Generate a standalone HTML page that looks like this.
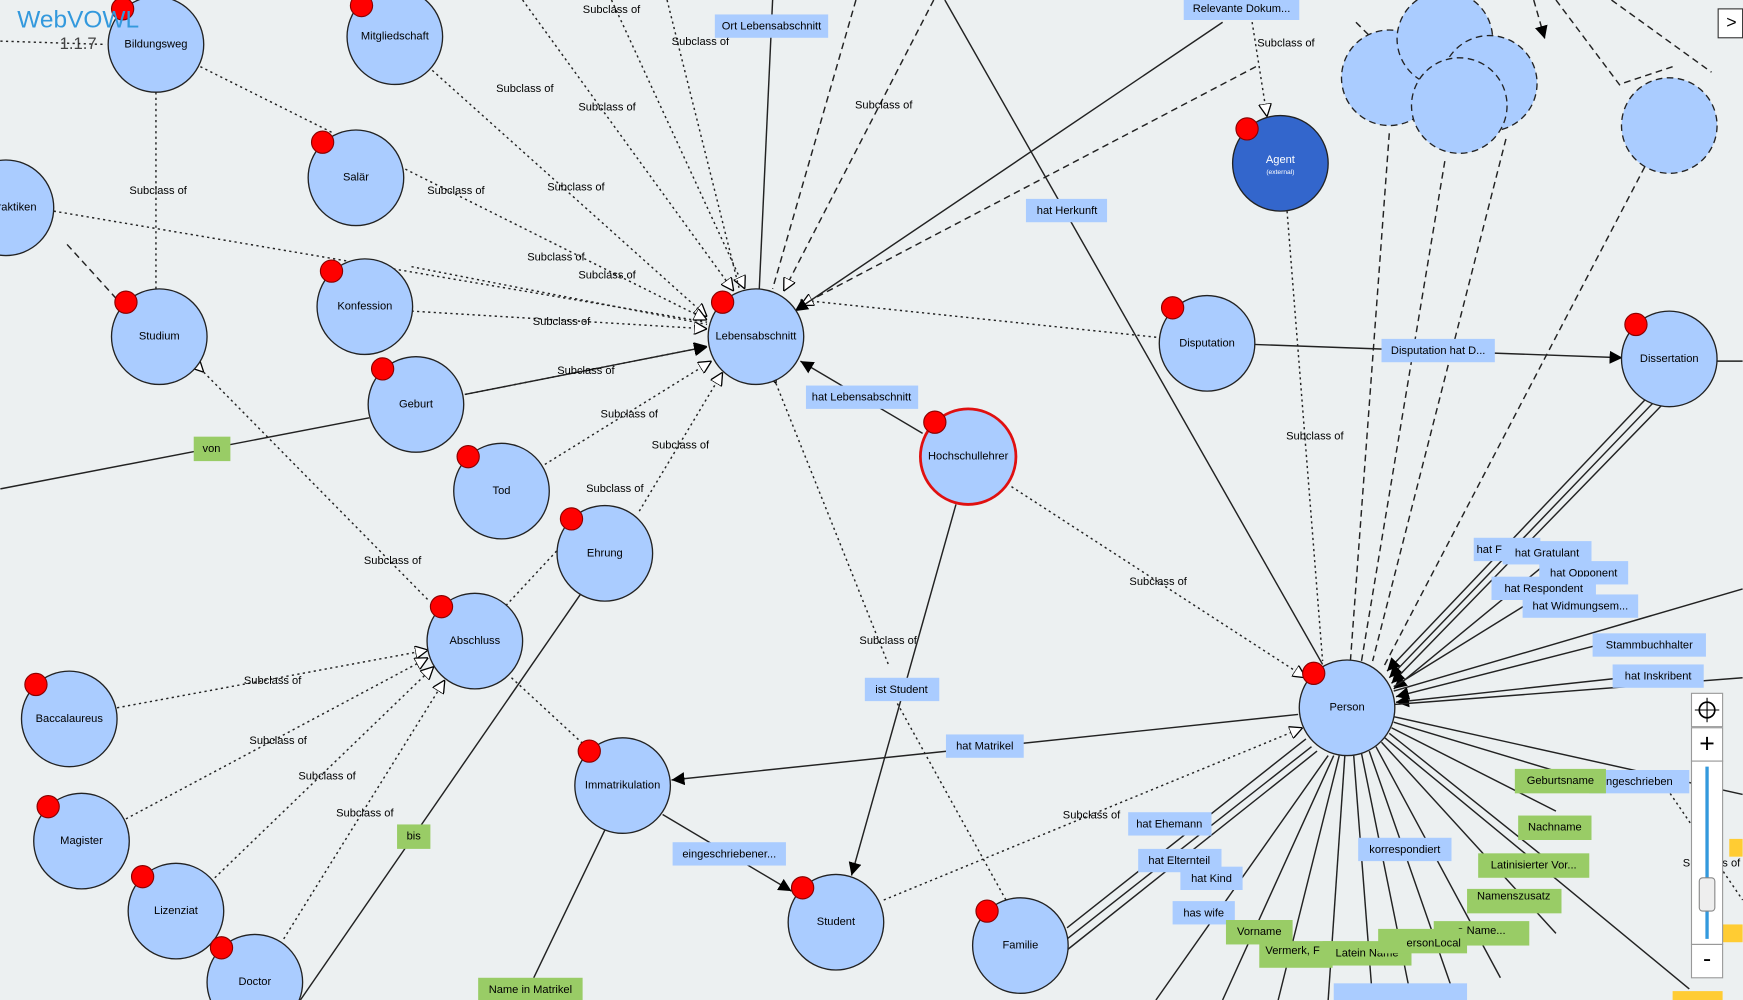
<!DOCTYPE html>
<html><head><meta charset="utf-8">
<style>
html,body{margin:0;padding:0;background:#ecf0f1;overflow:hidden}
svg{display:block}
text{font-family:"Liberation Sans",sans-serif;font-size:10px;text-anchor:middle;dominant-baseline:middle;fill:#000}
.n{fill:#aaccff;stroke:#222;stroke-width:1.2}
.d{stroke:#222;stroke-width:1.3;stroke-dasharray:2,3;fill:none}
.s{stroke:#222;stroke-width:1.3;fill:none}
.ds{stroke:#222;stroke-width:1.3;stroke-dasharray:6,4;fill:none}
.pin{fill:#ff0000;stroke:#800;stroke-width:1}
.lb{fill:#aaccff}
.lg{fill:#99cc66}
</style></head><body>
<svg width="1743" height="1000" viewBox="0 0 1568 900" xmlns="http://www.w3.org/2000/svg">
<defs>
<marker id="a" viewBox="0 0 10 10" refX="10" refY="5" markerWidth="9" markerHeight="9" orient="auto"><path d="M0,0L10,5L0,10z" fill="#000"/></marker>
<marker id="h" viewBox="0 0 10 10" refX="10" refY="5" markerWidth="9" markerHeight="9" orient="auto"><path d="M0,0L10,5L0,10z" fill="#fff" stroke="#000"/></marker>
</defs>
<rect width="1568" height="900" fill="#ecf0f1"/>
<!-- dotted subclass edges to Lebensabschnitt -->
<g class="d">
<line x1="140" y1="83" x2="140" y2="260" marker-start="url(#h)"/>
<line x1="180" y1="60" x2="300" y2="120"/>
<line x1="48" y1="190" x2="636" y2="290" marker-start="url(#h)"/>
<line x1="385" y1="60" x2="636" y2="285" marker-end="url(#h)"/>
<line x1="360" y1="150" x2="636" y2="288" marker-end="url(#h)"/>
<line x1="370" y1="280" x2="636" y2="296" marker-end="url(#h)"/>
<line x1="370" y1="240" x2="636" y2="292"/>
<line x1="418" y1="355" x2="636" y2="312" marker-end="url(#h)"/>
<line x1="490" y1="418" x2="640" y2="325" marker-end="url(#h)"/>
<line x1="575" y1="460" x2="650" y2="335" marker-end="url(#h)"/>
<line x1="470" y1="0" x2="660" y2="262" marker-end="url(#h)"/>
<line x1="550" y1="0" x2="670" y2="260" marker-end="url(#h)"/>
<line x1="600" y1="0" x2="665" y2="260"/>
<line x1="720" y1="270" x2="1045" y2="304"/>
<line x1="183" y1="335" x2="385" y2="540" marker-start="url(#h)"/>
<line x1="105" y1="637" x2="385" y2="585" marker-end="url(#h)"/>
<line x1="113" y1="737" x2="385" y2="592" marker-end="url(#h)"/>
<line x1="193" y1="790" x2="390" y2="600" marker-end="url(#h)"/>
<line x1="255" y1="845" x2="400" y2="612" marker-end="url(#h)"/>
<line x1="455" y1="545" x2="520" y2="475"/>
<line x1="460" y1="610" x2="525" y2="670"/>
<line x1="698" y1="345" x2="800" y2="600" marker-start="url(#h)"/>
<line x1="800" y1="620" x2="905" y2="810"/>
<line x1="910" y1="438" x2="1175" y2="610" marker-end="url(#h)"/>
<line x1="795" y1="810" x2="1172" y2="655" marker-end="url(#h)"/>
<line x1="1158" y1="190" x2="1190" y2="595" marker-start="url(#h)"/>
<line x1="1125" y1="10" x2="1140" y2="105" marker-end="url(#h)"/>
<line x1="1500" y1="710" x2="1568" y2="810"/>
</g>
<g class="ds">
<line x1="60" y1="220" x2="110" y2="275"/>
<line x1="840" y1="0" x2="705" y2="262" marker-end="url(#h)"/>
<line x1="770" y1="0" x2="695" y2="260"/>
<line x1="1130" y1="60" x2="720" y2="275" marker-end="url(#h)"/>
<line x1="1250" y1="120" x2="1215" y2="595"/>
<line x1="1300" y1="145" x2="1225" y2="595"/>
<line x1="1355" y1="125" x2="1235" y2="595"/>
<line x1="1480" y1="150" x2="1245" y2="600"/>
<line x1="1505" y1="60" x2="1460" y2="75"/>
<line x1="1400" y1="0" x2="1460" y2="80"/>
<line x1="1450" y1="0" x2="1540" y2="65"/>
<line x1="1220" y1="20" x2="1240" y2="40"/>
<line x1="1380" y1="0" x2="1390" y2="35" marker-end="url(#a)"/>
</g>
<!-- solid edges -->
<g class="s">
<line x1="0" y1="440" x2="332" y2="376"/>
<line x1="418" y1="355" x2="636" y2="312" marker-end="url(#a)"/>
<line x1="695" y1="0" x2="683" y2="260"/>
<line x1="1100" y1="20" x2="715" y2="280" marker-end="url(#a)"/>
<line x1="830" y1="390" x2="720" y2="325" marker-end="url(#a)"/>
<line x1="860" y1="454" x2="766" y2="788" marker-end="url(#a)"/>
<line x1="1168" y1="643" x2="604" y2="702" marker-end="url(#a)"/>
<line x1="596" y1="733" x2="712" y2="802" marker-end="url(#a)"/>
<line x1="1128" y1="310" x2="1460" y2="322" marker-end="url(#a)"/>
<line x1="850" y1="0" x2="1190" y2="598"/>
<line x1="270" y1="900" x2="522" y2="535"/>
<line x1="480" y1="880" x2="545" y2="745"/>
<line x1="1545" y1="325" x2="1568" y2="325"/>
<g marker-end="url(#a)">
<line x1="1480" y1="360" x2="1248" y2="604"/>
<line x1="1488" y1="362" x2="1250" y2="610"/>
<line x1="1495" y1="365" x2="1252" y2="615"/>
<line x1="1400" y1="500" x2="1254" y2="620"/>
<line x1="1440" y1="580" x2="1256" y2="627"/>
<line x1="1460" y1="610" x2="1256" y2="632"/>
</g>
<line x1="1380" y1="540" x2="1254" y2="618"/>
<line x1="1568" y1="530" x2="1254" y2="622"/>
<line x1="1568" y1="610" x2="1255" y2="634"/>
<line x1="960" y1="835" x2="1175" y2="665"/>
<line x1="960" y1="845" x2="1180" y2="672"/>
<line x1="960" y1="855" x2="1185" y2="676"/>
<line x1="1040" y1="900" x2="1195" y2="680"/>
<line x1="1100" y1="900" x2="1200" y2="680"/>
<line x1="1150" y1="900" x2="1205" y2="680"/>
<line x1="1195" y1="900" x2="1210" y2="680"/>
<line x1="1235" y1="900" x2="1218" y2="680"/>
<line x1="1270" y1="900" x2="1225" y2="678"/>
<line x1="1310" y1="900" x2="1232" y2="676"/>
<line x1="1350" y1="880" x2="1238" y2="672"/>
<line x1="1400" y1="840" x2="1243" y2="668"/>
<line x1="1520" y1="890" x2="1246" y2="664"/>
<line x1="1400" y1="780" x2="1250" y2="660"/>
<line x1="1400" y1="730" x2="1252" y2="655"/>
<line x1="1420" y1="700" x2="1254" y2="650"/>
<line x1="1568" y1="715" x2="1254" y2="645"/>
</g>
<!-- nodes -->
<g>
<circle class="n" cx="140" cy="40" r="43"/><text x="140" y="40">Bildungsweg</text>
<circle class="n" cx="355" cy="33" r="43"/><text x="355" y="33">Mitgliedschaft</text>
<circle class="n" cx="320" cy="160" r="43"/><text x="320" y="160">Salär</text>
<circle class="n" cx="5" cy="187" r="43"/><text x="15" y="187">raktiken</text>
<circle class="n" cx="328" cy="276" r="43"/><text x="328" y="276">Konfession</text>
<circle class="n" cx="143" cy="303" r="43"/><text x="143" y="303">Studium</text>
<circle class="n" cx="680" cy="303" r="43"/><text x="680" y="303">Lebensabschnitt</text>
<circle class="n" cx="374" cy="364" r="43"/><text x="374" y="364">Geburt</text>
<circle class="n" cx="451" cy="442" r="43"/><text x="451" y="442">Tod</text>
<circle class="n" cx="544" cy="498" r="43"/><text x="544" y="498">Ehrung</text>
<circle class="n" cx="427" cy="577" r="43"/><text x="427" y="577">Abschluss</text>
<circle class="n" cx="62" cy="647" r="43"/><text x="62" y="647">Baccalaureus</text>
<circle class="n" cx="73" cy="757" r="43"/><text x="73" y="757">Magister</text>
<circle class="n" cx="158" cy="820" r="43"/><text x="158" y="820">Lizenziat</text>
<circle class="n" cx="229" cy="884" r="43"/><text x="229" y="884">Doctor</text>
<circle class="n" cx="560" cy="707" r="43"/><text x="560" y="707">Immatrikulation</text>
<circle class="n" cx="752" cy="830" r="43"/><text x="752" y="830">Student</text>
<circle class="n" cx="918" cy="851" r="43"/><text x="918" y="851">Familie</text>
<circle class="n" cx="871" cy="411" r="43" style="stroke:#e01010;stroke-width:2.5"/><text x="871" y="411">Hochschullehrer</text>
<circle class="n" cx="1086" cy="309" r="43"/><text x="1086" y="309">Disputation</text>
<circle cx="1152" cy="147" r="43" fill="#3366cc" stroke="#222" stroke-width="1.2"/><text x="1152" y="144" style="fill:#fff">Agent</text><text x="1152" y="155" style="fill:#fff;font-size:6px">(external)</text>
<circle class="n" cx="1502" cy="323" r="43"/><text x="1502" y="323">Dissertation</text>
<circle class="n" cx="1212" cy="637" r="43"/><text x="1212" y="637">Person</text>
<g style="stroke-dasharray:6,4">
<circle class="n" cx="1250" cy="70" r="43"/>
<circle class="n" cx="1300" cy="35" r="43"/>
<circle class="n" cx="1340" cy="75" r="43"/>
<circle class="n" cx="1313" cy="95" r="43"/>
<circle class="n" cx="1502" cy="113" r="43"/>
</g>
</g>
<!-- pins -->
<g class="pin">
<circle cx="110" cy="8" r="10"/><circle cx="325" cy="5" r="10"/><circle cx="290" cy="128" r="10"/>
<circle cx="298" cy="244" r="10"/><circle cx="113" cy="272" r="10"/><circle cx="650" cy="272" r="10"/>
<circle cx="344" cy="332" r="10"/><circle cx="421" cy="411" r="10"/><circle cx="514" cy="467" r="10"/>
<circle cx="397" cy="546" r="10"/><circle cx="32" cy="616" r="10"/><circle cx="43" cy="726" r="10"/>
<circle cx="128" cy="789" r="10"/><circle cx="199" cy="853" r="10"/><circle cx="530" cy="676" r="10"/>
<circle cx="722" cy="799" r="10"/><circle cx="888" cy="820" r="10"/><circle cx="841" cy="380" r="10"/>
<circle cx="1055" cy="277" r="10"/><circle cx="1122" cy="116" r="10"/><circle cx="1472" cy="292" r="10"/>
<circle cx="1182" cy="606" r="10"/>
</g>
<!-- subclass labels -->
<g style="font-size:9.5px">
<text x="550" y="9">Subclass of</text><text x="630" y="38">Subclass of</text>
<text x="472" y="80">Subclass of</text><text x="546" y="97">Subclass of</text><text x="795" y="95">Subclass of</text>
<text x="142" y="172">Subclass of</text><text x="410" y="172">Subclass of</text><text x="518" y="169">Subclass of</text>
<text x="500" y="232">Subclass of</text><text x="546" y="248">Subclass of</text><text x="505" y="290">Subclass of</text>
<text x="527" y="334">Subclass of</text><text x="566" y="373">Subclass of</text><text x="612" y="401">Subclass of</text>
<text x="553" y="440">Subclass of</text><text x="353" y="505">Subclass of</text><text x="245" y="613">Subclass of</text>
<text x="250" y="667">Subclass of</text><text x="294" y="699">Subclass of</text><text x="328" y="732">Subclass of</text>
<text x="799" y="577">Subclass of</text><text x="1042" y="524">Subclass of</text><text x="982" y="734">Subclass of</text>
<text x="1183" y="393">Subclass of</text><text x="1157" y="39">Subclass of</text><text x="1540" y="777">Subclass of</text>
</g>
<!-- property labels -->
<g>
<rect class="lb" x="643" y="13" width="102" height="21"/><text x="694" y="24">Ort Lebensabschnitt</text>
<rect class="lb" x="1065" y="0" width="104" height="18"/><text x="1117" y="8">Relevante Dokum...</text>
<rect class="lb" x="923" y="179" width="73" height="21"/><text x="960" y="190">hat Herkunft</text>
<rect class="lb" x="725" y="347" width="101" height="21"/><text x="775" y="358">hat Lebensabschnitt</text>
<rect class="lb" x="1243" y="305" width="102" height="21"/><text x="1294" y="316">Disputation hat D...</text>
<rect class="lb" x="778" y="610" width="67" height="21"/><text x="811" y="621">ist Student</text>
<rect class="lb" x="851" y="661" width="70" height="21"/><text x="886" y="672">hat Matrikel</text>
<rect class="lb" x="605" y="758" width="102" height="21"/><text x="656" y="769">eingeschriebener...</text>
<rect class="lb" x="1015" y="731" width="75" height="21"/><text x="1052" y="742">hat Ehemann</text>
<rect class="lb" x="1024" y="764" width="75" height="21"/><text x="1061" y="775">hat Elternteil</text>
<rect class="lb" x="1062" y="780" width="56" height="21"/><text x="1090" y="791">hat Kind</text>
<rect class="lb" x="1055" y="811" width="56" height="21"/><text x="1083" y="822">has wife</text>
<rect class="lb" x="1222" y="754" width="84" height="21"/><text x="1264" y="765">korrespondiert</text>
<rect class="lb" x="1326" y="484" width="60" height="21"/><text x="1340" y="495">hat F</text>
<rect class="lb" x="1352" y="487" width="80" height="21"/><text x="1392" y="498">hat Gratulant</text>
<rect class="lb" x="1385" y="505" width="80" height="21"/><text x="1425" y="516">hat Opponent</text>
<rect class="lb" x="1342" y="519" width="94" height="21"/><text x="1389" y="530">hat Respondent</text>
<rect class="lb" x="1370" y="535" width="104" height="21"/><text x="1422" y="546">hat Widmungsem...</text>
<rect class="lb" x="1433" y="570" width="102" height="21"/><text x="1484" y="581">Stammbuchhalter</text>
<rect class="lb" x="1451" y="598" width="82" height="21"/><text x="1492" y="609">hat Inskribent</text>
<rect class="lb" x="1430" y="693" width="90" height="21"/><text x="1474" y="704">ingeschrieben</text>
<rect class="lb" x="1200" y="885" width="120" height="15"/>
<rect class="lg" x="174" y="393" width="33" height="22"/><text x="190" y="404">von</text>
<rect class="lg" x="357" y="742" width="30" height="22"/><text x="372" y="753">bis</text>
<rect class="lg" x="430" y="880" width="94" height="20"/><text x="477" y="891">Name in Matrikel</text>
<rect class="lg" x="1363" y="692" width="82" height="22"/><text x="1404" y="703">Geburtsname</text>
<rect class="lg" x="1366" y="734" width="66" height="22"/><text x="1399" y="745">Nachname</text>
<rect class="lg" x="1330" y="768" width="100" height="22"/><text x="1380" y="779">Latinisierter Vor...</text>
<rect class="lg" x="1320" y="800" width="85" height="22"/><text x="1362" y="807">Namenszusatz</text>
<rect class="lg" x="1290" y="829" width="86" height="22"/><text x="1333" y="838">e Name...</text>
<rect class="lg" x="1103" y="828" width="60" height="22"/><text x="1133" y="839">Vorname</text>
<rect class="lg" x="1133" y="847" width="66" height="24"/><text x="1163" y="856">Vermerk, F</text>
<rect class="lg" x="1190" y="847" width="80" height="22"/><text x="1230" y="858">Latein Name</text>
<rect class="lg" x="1240" y="836" width="80" height="22"/><text x="1290" y="849">ersonLocal</text>
<rect x="1556" y="755" width="12" height="16" fill="#ffcc33"/>
<rect x="1550" y="832" width="18" height="16" fill="#ffcc33"/>
<rect x="1505" y="892" width="45" height="8" fill="#ffcc33"/>
</g>
<!-- logo -->
<text x="70" y="19" style="font-size:22px;fill:#3399dd;font-weight:normal">WebVOWL</text>
<text x="70" y="40" style="font-size:15px;fill:#444">1.1.7</text>
<line x1="0" y1="37" x2="95" y2="40" class="d"/>
<!-- zoom control -->
<rect x="1546" y="8" width="22" height="26" fill="#fff" stroke="#333"/><text x="1558" y="21" style="font-size:16px">&gt;</text>
<rect x="1522" y="624" width="28" height="30" fill="#fff" stroke="#999"/>
<circle cx="1536" cy="639" r="7" fill="none" stroke="#000" stroke-width="1.5"/><line x1="1536" y1="628" x2="1536" y2="650" stroke="#000"/><line x1="1525" y1="639" x2="1547" y2="639" stroke="#000"/>
<rect x="1522" y="655" width="28" height="30" fill="#fff" stroke="#999"/><text x="1536" y="671" style="font-size:24px">+</text>
<rect x="1522" y="685" width="28" height="165" fill="#fff" stroke="#999"/>
<line x1="1536" y1="690" x2="1536" y2="845" stroke="#3399dd" stroke-width="3"/>
<rect x="1529" y="790" width="14" height="30" fill="#eee" stroke="#888" rx="3"/>
<rect x="1522" y="850" width="28" height="30" fill="#fff" stroke="#999"/><text x="1536" y="864" style="font-size:22px">-</text>
</svg>
</body></html>
